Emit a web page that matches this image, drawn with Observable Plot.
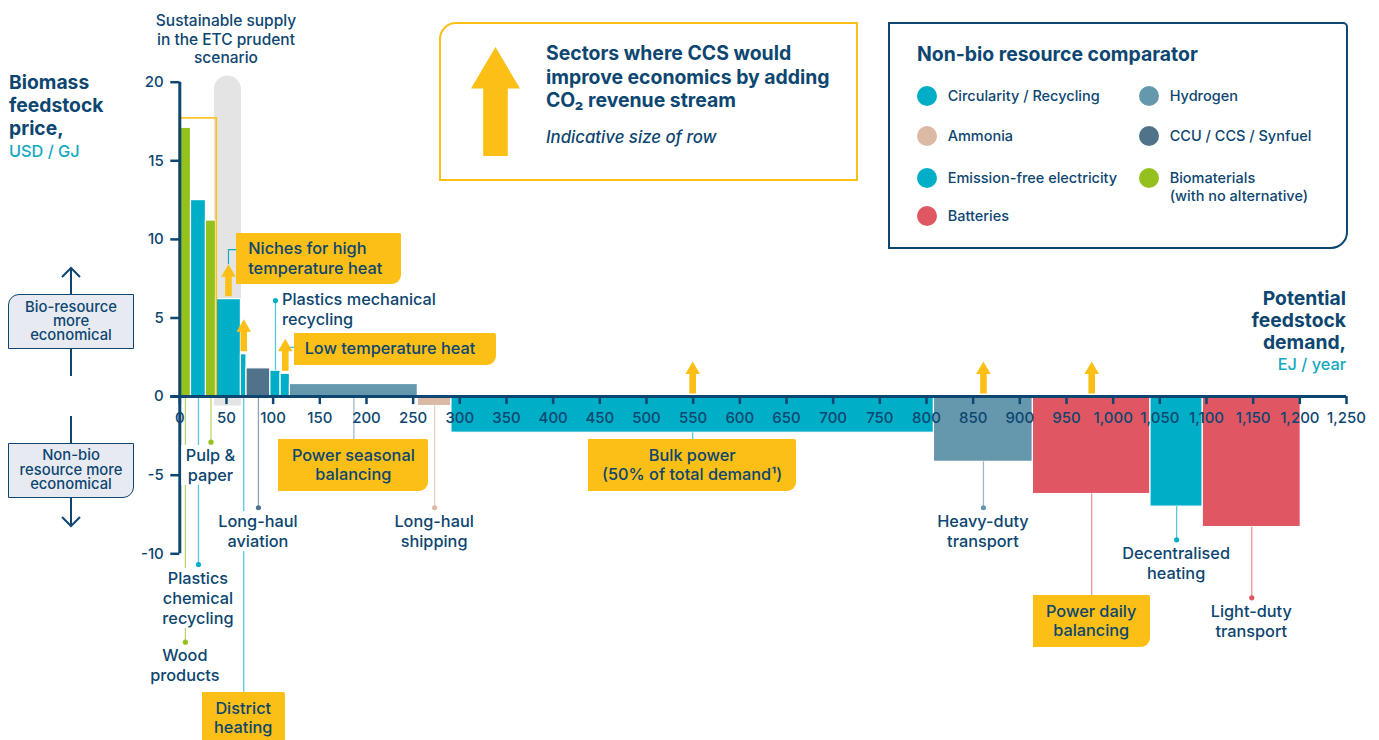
<!DOCTYPE html>
<html>
<head>
<meta charset="utf-8">
<script src="https://cdn.jsdelivr.net/npm/d3@7"></script>
<script src="https://cdn.jsdelivr.net/npm/@observablehq/plot@0.6"></script>
<style>
  html,body{margin:0;padding:0;background:#fff;}
  body{font-family:Inter,"Noto Sans",sans-serif;color:#0d4670;font-weight:500;}
  #wrap{position:relative;width:1379px;height:740px;overflow:hidden;}
  #wrap > svg{position:absolute;left:0;top:0;}
  .a{position:absolute;white-space:pre;}
  .lbl{position:absolute;font-size:16.3px;line-height:20px;text-align:center;background:#fff;padding:0 4px;transform:translateX(-50%);white-space:pre;}
  .call{position:absolute;background:#fbbf16;border-radius:0 2px 9px 0;font-size:16.3px;line-height:19.5px;box-sizing:border-box;display:flex;flex-direction:column;justify-content:center;white-space:pre;}
  .b{font-weight:700;}
  .dot{position:absolute;width:20px;height:20px;border-radius:50%;}
</style>
</head>
<body>
<div id="wrap"></div>
<script>
// ---------- data ----------
const sectors = ["Wood products","Plastics chemical recycling","Pulp & paper","Niches for high temperature heat","District heating","Long-haul aviation","Plastics mechanical recycling","Low temperature heat","Power seasonal balancing","Long-haul shipping","Bulk power","Heavy-duty transport","Power daily balancing","Decentralised heating","Light-duty transport"];
const demand = [12, 16, 10.8, 26.7, 6, 25.5, 11, 10, 137, 36, 517, 106, 126, 56, 105]; // EJ / year (bar widths)
const price = [17.1, 12.5, 11.2, 6.2, 2.7, 1.8, 1.65, 1.45, 0.8, -0.6, -2.3, -4.15, -6.2, -7.0, -8.3]; // USD / GJ
const comparator = ["Biomaterials","Circularity / Recycling","Biomaterials","Emission-free electricity","Emission-free electricity","CCU / CCS / Synfuel","Circularity / Recycling","Emission-free electricity","Hydrogen","Ammonia","Emission-free electricity","Hydrogen","Batteries","Emission-free electricity","Batteries"];
const ccs = [0,0,0,1,1,0,0,1,0,0,1,1,1,0,0];
const labelKind = ["dot","dot","dot",null,"box","dot","up",null,"box","dot","box","dot","box","dot","dot"];
const labelLevel = [-15.62,-10.68,-2.90,null,-18.8,-7.07,6.11,null,-2.75,-7.07,-2.75,-7.07,-12.67,-9.11,-12.8];
const labelText = ["Wood\nproducts","Plastics\nchemical\nrecycling","Pulp &\npaper","","District\nheating","Long-haul\naviation","Plastics mechanical\nrecycling","","Power seasonal\nbalancing","Long-haul\nshipping","Bulk power\n(50% of total demand¹)","Heavy-duty\ntransport","Power daily\nbalancing","Decentralised\nheating","Light-duty\ntransport"];
const connectors = [
  {sector: "Niches for high temperature heat", tip: 8.45, level: 9.35, reach: 61, text: "Niches for high\ntemperature heat"},
  {sector: "Low temperature heat", tip: 3.14, level: 3.14, reach: 122.5, text: "Low temperature heat"}
];
const supply = {x1: 37, x2: 66, y1: -0.6, y2: 20.4};
const highlight = {x1: 0, x2: 39.6, y1: 0, y2: 17.7};
const xTicks = d3.range(0, 1251, 50);
const yTicks = [-10, -5, 0, 5, 10, 15, 20];
const legendItems = ["Circularity / Recycling","Ammonia","Emission-free electricity","Batteries","Hydrogen","CCU / CCS / Synfuel","Biomaterials\n(with no alternative)"];
const legendKeys = ["Circularity / Recycling","Ammonia","Emission-free electricity","Batteries","Hydrogen","CCU / CCS / Synfuel","Biomaterials"];

// ---------- styles ----------
const navy = "#0d4670", teal = "#12a9c1", yellow = "#fbbf16";
const colors = {
  "Circularity / Recycling": "#00aec7",
  "Ammonia": "#dbb9a4",
  "Emission-free electricity": "#00aec7",
  "Batteries": "#e05763",
  "Hydrogen": "#6597ad",
  "CCU / CCS / Synfuel": "#51728b",
  "Biomaterials": "#95c11f"
};

let acc = 0;
const rows = sectors.map((s, i) => {
  const x1 = acc; acc += demand[i];
  return {sector: s, x1, x2: acc, mid: (x1 + acc) / 2, price: price[i], cat: comparator[i],
          ccs: ccs[i], kind: labelKind[i], level: labelLevel[i], label: labelText[i]};
});
const bySector = Object.fromEntries(rows.map(d => [d.sector, d]));
const connPts = connectors.flatMap(c => {
  const m = bySector[c.sector].mid;
  return [{id: c.sector, x: m, y: c.tip}, {id: c.sector, x: m, y: c.level}, {id: c.sector, x: c.reach, y: c.level}];
});

const arrowShape = {
  draw(ctx, l) {
    const hw = 7.3, hh = 12.5, sw = 3.3;
    ctx.moveTo(-sw, 0);
    ctx.lineTo(-sw, hh - l);
    ctx.lineTo(-hw, hh - l);
    ctx.lineTo(0, -l);
    ctx.lineTo(hw, hh - l);
    ctx.lineTo(sw, hh - l);
    ctx.lineTo(sw, 0);
    ctx.closePath();
  }
};

const leaders = rows.filter(d => d.kind);
const dotted = rows.filter(d => d.kind === "dot" || d.kind === "up");

const chart = Plot.plot({
  width: 1379, height: 740,
  marginLeft: 179.3, marginRight: 33, marginTop: 81.7, marginBottom: 186.7,
  x: {domain: [0, 1250], axis: null},
  y: {domain: [-10, 20], axis: null},
  style: {fontFamily: "Inter, sans-serif", fontSize: "15px", fontWeight: 500, color: navy, background: "transparent", overflow: "visible"},
  marks: [
    Plot.rect([supply], {x1: "x1", x2: "x2", y1: 5, y2: "y2", rx: 14, fill: "#e4e4e4"}),
    Plot.rect([supply], {x1: "x1", x2: "x2", y1: "y1", y2: 10, fill: "#e4e4e4"}),
    Plot.rect(rows, {x1: "x1", x2: "x2", y1: 0, y2: "price", fill: d => colors[d.cat], stroke: "#fff", strokeWidth: 1.2}),
    Plot.rect([highlight], {x1: "x1", x2: "x2", y1: "y1", y2: "y2", fill: "none", stroke: yellow, strokeWidth: 1.6}),
    Plot.ruleX(leaders, {x: "mid", y1: d => d.kind === "up" ? d.price : Math.min(d.price, 0), y2: "level",
                         stroke: d => colors[d.cat], strokeOpacity: 0.65, strokeWidth: 1.3}),
    Plot.line(connPts, {x: "x", y: "y", z: "id", stroke: teal, strokeWidth: 1.2}),
    Plot.dot(dotted, {x: "mid", y: "level", r: 2.6, fill: d => colors[d.cat], stroke: "none"}),
    // axes
    Plot.ruleX([0], {y1: -10, y2: 20, stroke: navy, strokeWidth: 3}),
    Plot.ruleY(yTicks, {y: d => d, x1: 0, x2: 0, insetLeft: -9, stroke: navy, strokeWidth: 2.5}),
    Plot.ruleY([0], {x1: 0, x2: 1250, insetLeft: -9, stroke: navy, strokeWidth: 3}),
    Plot.ruleX(xTicks, {x: d => d, y1: 0, y2: 0, insetBottom: -8, stroke: navy, strokeWidth: 2.5}),
    Plot.text(xTicks, {x: d => d, y: 0, dy: 22, text: d => d3.format(",")(d), fill: navy, fontWeight: 500}),
    Plot.text(yTicks, {x: 0, y: d => d, dx: -16, textAnchor: "end", text: d => String(d), fill: navy, fontWeight: 500}),
    // CCS arrows
    Plot.vector(rows.filter(d => d.ccs), {x: "mid", y: d => Math.max(d.price, 0), length: 32, anchor: "start",
                 shape: arrowShape, fill: yellow, stroke: "none", dy: -3})
  ]
});

const wrap = document.getElementById("wrap");
wrap.appendChild(chart);
const X = v => chart.scale("x").apply(v);
const Y = v => chart.scale("y").apply(v);

function add(html, cls, style) {
  const d = document.createElement("div");
  d.className = cls;
  d.innerHTML = html;
  Object.assign(d.style, style);
  wrap.appendChild(d);
  return d;
}

// dot labels
rows.filter(d => d.kind === "dot").forEach(d => {
  add(d.label.replace(/&/g, "&amp;"), "lbl", {left: X(d.mid) + "px", top: (Y(d.level) + 3.7) + "px"});
});
rows.filter(d => d.kind === "up").forEach(d => {
  add(d.label, "a", {left: (X(d.mid) + 7) + "px", top: (Y(d.level) - 11) + "px", fontSize: "16.3px", lineHeight: "20px"});
});
// boxed callouts below axis
const boxW = {"District heating": 83, "Power seasonal balancing": 150, "Bulk power": 208, "Power daily balancing": 117};
const boxH = {"District heating": 60, "Power seasonal balancing": 52, "Bulk power": 52, "Power daily balancing": 52};
rows.filter(d => d.kind === "box").forEach(d => {
  const w = boxW[d.sector], h = boxH[d.sector];
  const el = add(d.label, "call", {left: (X(d.mid) - w / 2) + "px", top: Y(d.level) + "px", width: w + "px", height: h + "px", textAlign: "center"});
  if (d.sector === "District heating") { el.style.justifyContent = "flex-start"; el.style.paddingTop = "7px"; }
});
// connector callouts
connectors.forEach((c, i) => {
  const w = i === 0 ? 165 : 202, h = i === 0 ? 51 : 32, off = i === 0 ? 16 : 14;
  add(c.text, "call", {left: X(c.reach) + "px", top: (Y(c.level) - off) + "px", width: w + "px", height: h + "px", paddingLeft: (i === 0 ? 12 : 11) + "px"});
});

// titles
add("Sustainable supply\nin the ETC prudent\nscenario", "a", {left: "126px", width: "200px", top: "12px", textAlign: "center", fontSize: "15.5px", lineHeight: "18.5px"});
add('<span class="b" style="font-size:19.3px;line-height:22px">Biomass\nfeedstock\nprice,</span>\n<span style="color:#12a9c1;font-size:16.3px;line-height:22px">USD / GJ</span>', "a", {left: "9px", top: "71px", lineHeight: "22px"});
add('<div class="b" style="font-size:19.3px;line-height:22px">Potential\nfeedstock\ndemand,</div><div style="color:#12a9c1;font-size:16.3px;line-height:23px">EJ / year</div>', "a", {right: (1379 - 1346) + "px", top: "287px", textAlign: "right"});

// left direction boxes
add("Bio-resource\nmore\neconomical", "a", {left: "8px", top: "294px", width: "126px", height: "55px", boxSizing: "border-box", background: "#e8eaf2", border: "1.5px solid " + navy, borderRadius: "11px 0 0 0", textAlign: "center", fontSize: "14.8px", lineHeight: "14px", paddingTop: "5px"});
add("Non-bio\nresource more\neconomical", "a", {left: "8px", top: "443px", width: "126px", height: "55px", boxSizing: "border-box", background: "#e8eaf2", border: "1.5px solid " + navy, borderRadius: "0 0 11px 0", textAlign: "center", fontSize: "14.8px", lineHeight: "14.5px", paddingTop: "4px"});
add(`<svg width="140" height="300" style="overflow:visible">
  <g fill="none" stroke="${navy}" stroke-width="2">
    <path d="M71,268 V294 M62,277 L71,268 L80,277"/>
    <path d="M71,349 V376"/>
    <path d="M71,416 V443"/>
    <path d="M71,498 V526 M62,517 L71,526 L80,517"/>
  </g></svg>`, "a", {left: "0px", top: "0px"});

// CCS legend box
add("", "a", {left: "439px", top: "22px", width: "419px", height: "159px", boxSizing: "border-box", border: "2px solid " + yellow, borderRadius: "17px 0 0 0"});
add(`<svg width="49" height="109"><path d="M24.5,0 L49,41.6 L36.8,41.6 L36.8,109 L12.2,109 L12.2,41.6 L0,41.6 Z" fill="${yellow}"/></svg>`, "a", {left: "470.5px", top: "46.5px", lineHeight: "0"});
add("Sectors where CCS would\nimprove economics by adding\nCO₂ revenue stream", "a b", {left: "546px", top: "42px", fontSize: "19.4px", lineHeight: "23.5px"});
add("Indicative size of row", "a", {left: "546px", top: "127px", fontSize: "16.8px", lineHeight: "20px", fontStyle: "italic"});

// comparator legend box
add("", "a", {left: "888px", top: "22px", width: "460px", height: "227px", boxSizing: "border-box", border: "2px solid " + navy, borderRadius: "0 5px 17px 0"});
add("Non-bio resource comparator", "a b", {left: "917px", top: "42px", fontSize: "19.4px", lineHeight: "24px"});
const legendPos = [[926.7, 96], [926.7, 136], [926.7, 178], [926.7, 215.7], [1148.7, 96], [1148.7, 136], [1148.7, 178]];
legendItems.forEach((t, i) => {
  const [cx, cy] = legendPos[i];
  add("", "dot", {left: (cx - 10) + "px", top: (cy - 10) + "px", background: colors[legendKeys[i]]});
  add(t, "a", {left: (cx + 21) + "px", top: (cy - 9) + "px", fontSize: "14.5px", lineHeight: "17.5px"});
});
</script>
</body>
</html>
